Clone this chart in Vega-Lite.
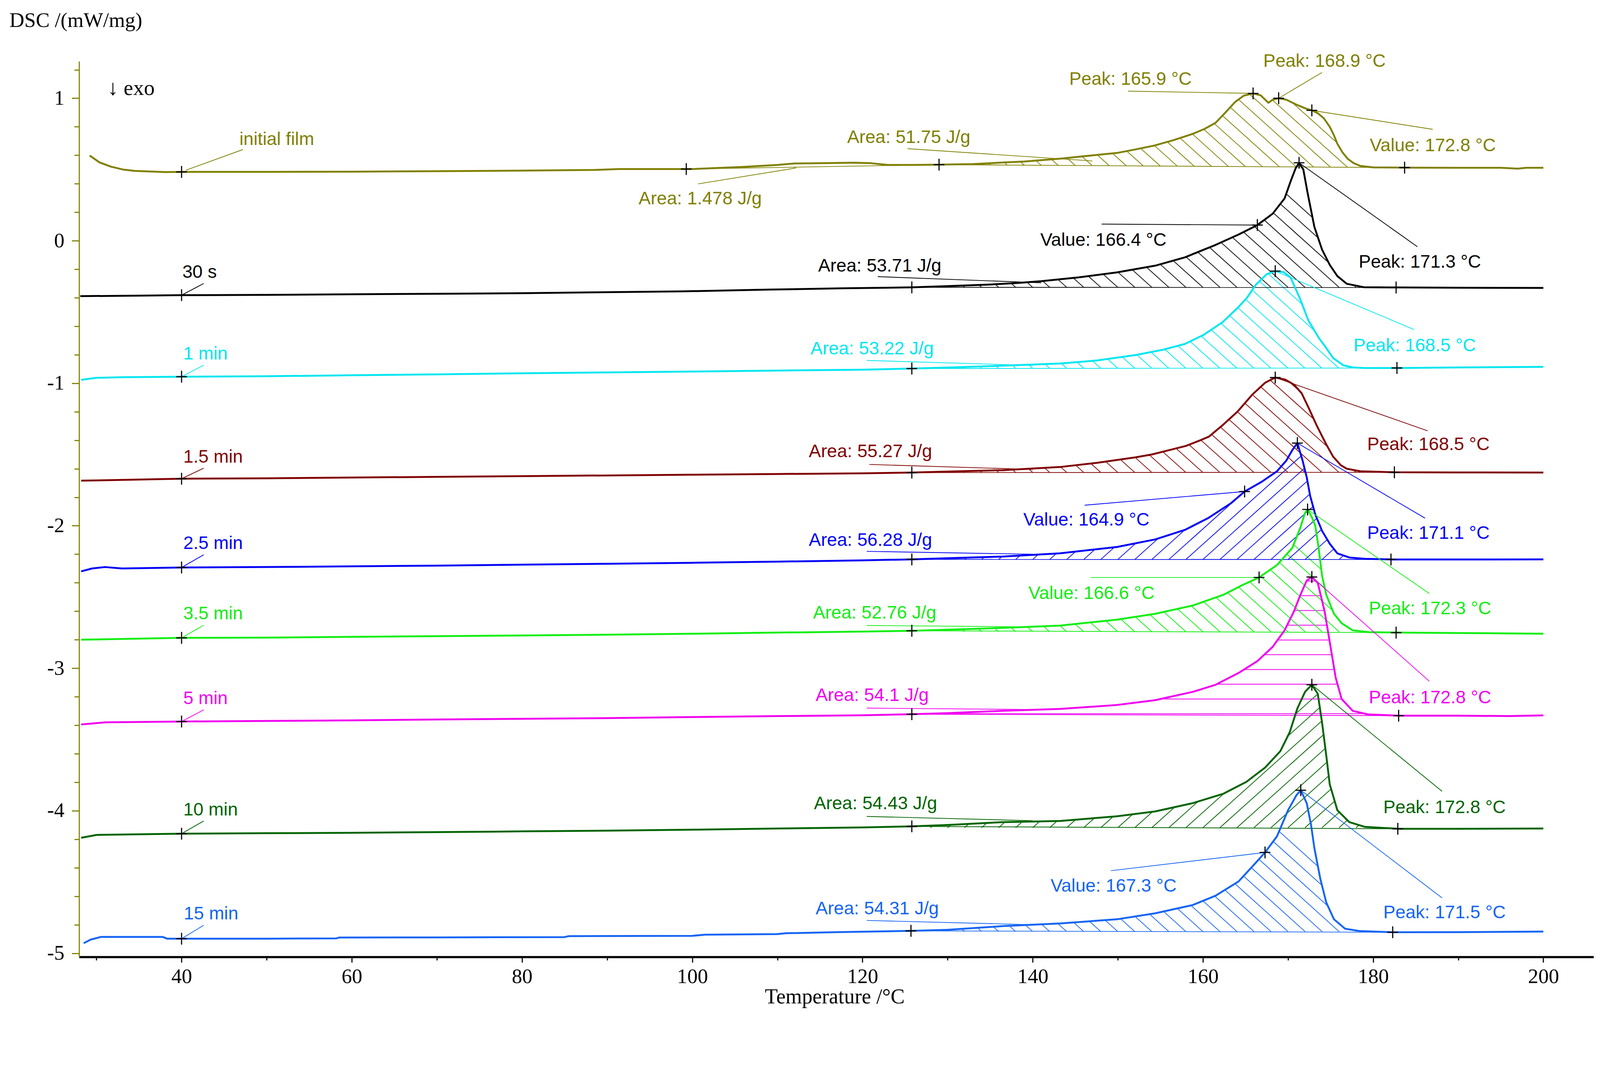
{
  "$schema": "https://vega.github.io/schema/vega-lite/v6.json",
  "width": 3877,
  "height": 2292,
  "autosize": "none",
  "padding": {"left": 202.5, "top": 157, "right": 16.5, "bottom": 157},
  "background": "white",
  "datasets": {
    "curve": [
      {"s":"initial film","t":29.2,"v":0.598},{"s":"initial film","t":30.35,"v":0.55},{"s":"initial film","t":31.7,"v":0.52},{"s":"initial film","t":33.1,"v":0.5},{"s":"initial film","t":34.5,"v":0.49},{"s":"initial film","t":38.1,"v":0.482},{"s":"initial film","t":40,"v":0.483},{"s":"initial film","t":50,"v":0.483},{"s":"initial film","t":60,"v":0.485},{"s":"initial film","t":70,"v":0.488},{"s":"initial film","t":80,"v":0.492},{"s":"initial film","t":88.5,"v":0.497},{"s":"initial film","t":91.4,"v":0.503},{"s":"initial film","t":100,"v":0.503},{"s":"initial film","t":106,"v":0.518},{"s":"initial film","t":110,"v":0.532},{"s":"initial film","t":112,"v":0.542},{"s":"initial film","t":116,"v":0.545},{"s":"initial film","t":119,"v":0.548},{"s":"initial film","t":121,"v":0.544},{"s":"initial film","t":123,"v":0.532},{"s":"initial film","t":126,"v":0.532},{"s":"initial film","t":129,"v":0.534},{"s":"initial film","t":133,"v":0.538},{"s":"initial film","t":136.5,"v":0.549},{"s":"initial film","t":139,"v":0.556},{"s":"initial film","t":143.2,"v":0.576},{"s":"initial film","t":146,"v":0.593},{"s":"initial film","t":149.9,"v":0.616},{"s":"initial film","t":152,"v":0.64},{"s":"initial film","t":154.3,"v":0.668},{"s":"initial film","t":156.5,"v":0.705},{"s":"initial film","t":158.8,"v":0.75},{"s":"initial film","t":160.2,"v":0.785},{"s":"initial film","t":161.5,"v":0.828},{"s":"initial film","t":162.8,"v":0.91},{"s":"initial film","t":163.8,"v":0.975},{"s":"initial film","t":164.8,"v":1.018},{"s":"initial film","t":165.9,"v":1.034},{"s":"initial film","t":166.8,"v":1.02},{"s":"initial film","t":167.7,"v":0.968},{"s":"initial film","t":168.2,"v":0.99},{"s":"initial film","t":168.9,"v":1.0},{"s":"initial film","t":169.8,"v":0.99},{"s":"initial film","t":171,"v":0.955},{"s":"initial film","t":172,"v":0.93},{"s":"initial film","t":172.8,"v":0.915},{"s":"initial film","t":173.5,"v":0.895},{"s":"initial film","t":174.2,"v":0.86},{"s":"initial film","t":174.9,"v":0.8},{"s":"initial film","t":175.4,"v":0.74},{"s":"initial film","t":175.8,"v":0.68},{"s":"initial film","t":176.4,"v":0.62},{"s":"initial film","t":177,"v":0.576},{"s":"initial film","t":177.7,"v":0.545},{"s":"initial film","t":178.5,"v":0.525},{"s":"initial film","t":180,"v":0.515},{"s":"initial film","t":185,"v":0.513},{"s":"initial film","t":190,"v":0.512},{"s":"initial film","t":195,"v":0.512},{"s":"initial film","t":197,"v":0.506},{"s":"initial film","t":198,"v":0.512},{"s":"initial film","t":200,"v":0.512},
      {"s":"30 s","t":28.1,"v":-0.389},{"s":"30 s","t":35,"v":-0.385},{"s":"30 s","t":40,"v":-0.382},{"s":"30 s","t":50,"v":-0.38},{"s":"30 s","t":60,"v":-0.376},{"s":"30 s","t":70,"v":-0.372},{"s":"30 s","t":80,"v":-0.368},{"s":"30 s","t":88.5,"v":-0.362},{"s":"30 s","t":99,"v":-0.355},{"s":"30 s","t":109,"v":-0.343},{"s":"30 s","t":117.5,"v":-0.334},{"s":"30 s","t":125.8,"v":-0.327},{"s":"30 s","t":130.2,"v":-0.318},{"s":"30 s","t":134.8,"v":-0.308},{"s":"30 s","t":138.3,"v":-0.296},{"s":"30 s","t":141,"v":-0.284},{"s":"30 s","t":145.4,"v":-0.257},{"s":"30 s","t":149.9,"v":-0.222},{"s":"30 s","t":154.4,"v":-0.175},{"s":"30 s","t":157.9,"v":-0.116},{"s":"30 s","t":161.5,"v":-0.029},{"s":"30 s","t":164.2,"v":0.044},{"s":"30 s","t":166.4,"v":0.11},{"s":"30 s","t":168.2,"v":0.19},{"s":"30 s","t":169.6,"v":0.297},{"s":"30 s","t":170.3,"v":0.416},{"s":"30 s","t":170.9,"v":0.509},{"s":"30 s","t":171.3,"v":0.547},{"s":"30 s","t":171.8,"v":0.5},{"s":"30 s","t":172.3,"v":0.336},{"s":"30 s","t":173.1,"v":0.097},{"s":"30 s","t":174,"v":-0.062},{"s":"30 s","t":174.9,"v":-0.169},{"s":"30 s","t":175.8,"v":-0.248},{"s":"30 s","t":176.9,"v":-0.302},{"s":"30 s","t":178.9,"v":-0.326},{"s":"30 s","t":183,"v":-0.328},{"s":"30 s","t":190,"v":-0.33},{"s":"30 s","t":200,"v":-0.331},
      {"s":"1 min","t":28.2,"v":-0.976},{"s":"1 min","t":30,"v":-0.962},{"s":"1 min","t":33,"v":-0.958},{"s":"1 min","t":40,"v":-0.954},{"s":"1 min","t":50,"v":-0.951},{"s":"1 min","t":60,"v":-0.944},{"s":"1 min","t":70,"v":-0.938},{"s":"1 min","t":80,"v":-0.93},{"s":"1 min","t":90,"v":-0.924},{"s":"1 min","t":100,"v":-0.918},{"s":"1 min","t":110,"v":-0.911},{"s":"1 min","t":120,"v":-0.905},{"s":"1 min","t":125.8,"v":-0.897},{"s":"1 min","t":130,"v":-0.89},{"s":"1 min","t":136.5,"v":-0.877},{"s":"1 min","t":143.2,"v":-0.862},{"s":"1 min","t":147.6,"v":-0.84},{"s":"1 min","t":152.1,"v":-0.802},{"s":"1 min","t":155.3,"v":-0.765},{"s":"1 min","t":157.9,"v":-0.724},{"s":"1 min","t":160.1,"v":-0.66},{"s":"1 min","t":162.3,"v":-0.572},{"s":"1 min","t":164.1,"v":-0.47},{"s":"1 min","t":165.2,"v":-0.399},{"s":"1 min","t":166.2,"v":-0.31},{"s":"1 min","t":167.5,"v":-0.235},{"s":"1 min","t":168.5,"v":-0.213},{"s":"1 min","t":169.5,"v":-0.22},{"s":"1 min","t":170.3,"v":-0.258},{"s":"1 min","t":171.4,"v":-0.405},{"s":"1 min","t":172.4,"v":-0.56},{"s":"1 min","t":173.6,"v":-0.68},{"s":"1 min","t":174.4,"v":-0.745},{"s":"1 min","t":175.3,"v":-0.823},{"s":"1 min","t":176.5,"v":-0.874},{"s":"1 min","t":177.6,"v":-0.889},{"s":"1 min","t":179,"v":-0.893},{"s":"1 min","t":183,"v":-0.893},{"s":"1 min","t":190,"v":-0.889},{"s":"1 min","t":200,"v":-0.885},
      {"s":"1.5 min","t":28.2,"v":-1.684},{"s":"1.5 min","t":40,"v":-1.67},{"s":"1.5 min","t":50,"v":-1.667},{"s":"1.5 min","t":60,"v":-1.662},{"s":"1.5 min","t":70,"v":-1.657},{"s":"1.5 min","t":80,"v":-1.652},{"s":"1.5 min","t":90,"v":-1.647},{"s":"1.5 min","t":100,"v":-1.642},{"s":"1.5 min","t":110,"v":-1.637},{"s":"1.5 min","t":120,"v":-1.632},{"s":"1.5 min","t":125.8,"v":-1.627},{"s":"1.5 min","t":130,"v":-1.62},{"s":"1.5 min","t":136.5,"v":-1.61},{"s":"1.5 min","t":143.2,"v":-1.588},{"s":"1.5 min","t":147.6,"v":-1.558},{"s":"1.5 min","t":152.1,"v":-1.52},{"s":"1.5 min","t":154,"v":-1.5},{"s":"1.5 min","t":156,"v":-1.47},{"s":"1.5 min","t":158,"v":-1.44},{"s":"1.5 min","t":159.7,"v":-1.4},{"s":"1.5 min","t":160.7,"v":-1.375},{"s":"1.5 min","t":162.4,"v":-1.29},{"s":"1.5 min","t":164.1,"v":-1.197},{"s":"1.5 min","t":165.8,"v":-1.08},{"s":"1.5 min","t":167.3,"v":-0.997},{"s":"1.5 min","t":168.5,"v":-0.96},{"s":"1.5 min","t":169.7,"v":-0.975},{"s":"1.5 min","t":170.7,"v":-1.01},{"s":"1.5 min","t":171.6,"v":-1.07},{"s":"1.5 min","t":172.4,"v":-1.17},{"s":"1.5 min","t":173.4,"v":-1.3},{"s":"1.5 min","t":174.5,"v":-1.43},{"s":"1.5 min","t":175.3,"v":-1.515},{"s":"1.5 min","t":176.2,"v":-1.575},{"s":"1.5 min","t":176.9,"v":-1.6},{"s":"1.5 min","t":178.5,"v":-1.618},{"s":"1.5 min","t":182.5,"v":-1.625},{"s":"1.5 min","t":190,"v":-1.626},{"s":"1.5 min","t":200,"v":-1.627},
      {"s":"2.5 min","t":28.2,"v":-2.32},{"s":"2.5 min","t":29.5,"v":-2.3},{"s":"2.5 min","t":31,"v":-2.29},{"s":"2.5 min","t":33,"v":-2.3},{"s":"2.5 min","t":40,"v":-2.293},{"s":"2.5 min","t":50,"v":-2.29},{"s":"2.5 min","t":60,"v":-2.285},{"s":"2.5 min","t":70,"v":-2.28},{"s":"2.5 min","t":80,"v":-2.273},{"s":"2.5 min","t":90,"v":-2.267},{"s":"2.5 min","t":100,"v":-2.26},{"s":"2.5 min","t":110,"v":-2.252},{"s":"2.5 min","t":120,"v":-2.243},{"s":"2.5 min","t":125.8,"v":-2.236},{"s":"2.5 min","t":130,"v":-2.228},{"s":"2.5 min","t":136.5,"v":-2.216},{"s":"2.5 min","t":143.2,"v":-2.194},{"s":"2.5 min","t":149.9,"v":-2.149},{"s":"2.5 min","t":154.4,"v":-2.096},{"s":"2.5 min","t":157.9,"v":-2.029},{"s":"2.5 min","t":160.6,"v":-1.947},{"s":"2.5 min","t":163.3,"v":-1.842},{"s":"2.5 min","t":164.9,"v":-1.76},{"s":"2.5 min","t":166.9,"v":-1.692},{"s":"2.5 min","t":168.7,"v":-1.618},{"s":"2.5 min","t":169.8,"v":-1.543},{"s":"2.5 min","t":170.5,"v":-1.47},{"s":"2.5 min","t":171.1,"v":-1.42},{"s":"2.5 min","t":171.7,"v":-1.54},{"s":"2.5 min","t":172.2,"v":-1.66},{"s":"2.5 min","t":172.6,"v":-1.79},{"s":"2.5 min","t":173.2,"v":-1.92},{"s":"2.5 min","t":174,"v":-2.036},{"s":"2.5 min","t":174.9,"v":-2.126},{"s":"2.5 min","t":175.8,"v":-2.194},{"s":"2.5 min","t":177.2,"v":-2.223},{"s":"2.5 min","t":179,"v":-2.232},{"s":"2.5 min","t":182.3,"v":-2.237},{"s":"2.5 min","t":190,"v":-2.237},{"s":"2.5 min","t":200,"v":-2.236},
      {"s":"3.5 min","t":28.2,"v":-2.8},{"s":"3.5 min","t":40,"v":-2.787},{"s":"3.5 min","t":50,"v":-2.785},{"s":"3.5 min","t":60,"v":-2.78},{"s":"3.5 min","t":70,"v":-2.775},{"s":"3.5 min","t":80,"v":-2.77},{"s":"3.5 min","t":90,"v":-2.765},{"s":"3.5 min","t":100,"v":-2.758},{"s":"3.5 min","t":110,"v":-2.75},{"s":"3.5 min","t":120,"v":-2.743},{"s":"3.5 min","t":125.8,"v":-2.737},{"s":"3.5 min","t":130,"v":-2.73},{"s":"3.5 min","t":136.5,"v":-2.717},{"s":"3.5 min","t":143.2,"v":-2.701},{"s":"3.5 min","t":149.9,"v":-2.659},{"s":"3.5 min","t":154.4,"v":-2.618},{"s":"3.5 min","t":158.8,"v":-2.56},{"s":"3.5 min","t":162.4,"v":-2.485},{"s":"3.5 min","t":164.6,"v":-2.418},{"s":"3.5 min","t":166.6,"v":-2.363},{"s":"3.5 min","t":168.7,"v":-2.276},{"s":"3.5 min","t":170.5,"v":-2.156},{"s":"3.5 min","t":171.4,"v":-2.022},{"s":"3.5 min","t":172,"v":-1.91},{"s":"3.5 min","t":172.3,"v":-1.886},{"s":"3.5 min","t":172.8,"v":-1.94},{"s":"3.5 min","t":173.2,"v":-2.0},{"s":"3.5 min","t":173.6,"v":-2.156},{"s":"3.5 min","t":174,"v":-2.351},{"s":"3.5 min","t":174.5,"v":-2.485},{"s":"3.5 min","t":175.4,"v":-2.618},{"s":"3.5 min","t":176.3,"v":-2.684},{"s":"3.5 min","t":177.6,"v":-2.734},{"s":"3.5 min","t":179.5,"v":-2.747},{"s":"3.5 min","t":182.7,"v":-2.75},{"s":"3.5 min","t":190,"v":-2.753},{"s":"3.5 min","t":200,"v":-2.758},
      {"s":"5 min","t":28.2,"v":-3.395},{"s":"5 min","t":31,"v":-3.38},{"s":"5 min","t":40,"v":-3.374},{"s":"5 min","t":50,"v":-3.37},{"s":"5 min","t":60,"v":-3.366},{"s":"5 min","t":70,"v":-3.36},{"s":"5 min","t":80,"v":-3.355},{"s":"5 min","t":90,"v":-3.35},{"s":"5 min","t":100,"v":-3.343},{"s":"5 min","t":110,"v":-3.336},{"s":"5 min","t":120,"v":-3.33},{"s":"5 min","t":125.8,"v":-3.323},{"s":"5 min","t":130,"v":-3.315},{"s":"5 min","t":136.5,"v":-3.299},{"s":"5 min","t":143.2,"v":-3.286},{"s":"5 min","t":149.9,"v":-3.258},{"s":"5 min","t":154.4,"v":-3.224},{"s":"5 min","t":158.8,"v":-3.166},{"s":"5 min","t":161.5,"v":-3.116},{"s":"5 min","t":164.2,"v":-3.033},{"s":"5 min","t":166.4,"v":-2.95},{"s":"5 min","t":168.2,"v":-2.85},{"s":"5 min","t":169.6,"v":-2.734},{"s":"5 min","t":170.7,"v":-2.601},{"s":"5 min","t":171.4,"v":-2.493},{"s":"5 min","t":172.2,"v":-2.385},{"s":"5 min","t":172.8,"v":-2.36},{"s":"5 min","t":173.5,"v":-2.402},{"s":"5 min","t":174.3,"v":-2.601},{"s":"5 min","t":175,"v":-2.85},{"s":"5 min","t":175.6,"v":-3.066},{"s":"5 min","t":176.3,"v":-3.216},{"s":"5 min","t":177.6,"v":-3.299},{"s":"5 min","t":179.4,"v":-3.324},{"s":"5 min","t":183,"v":-3.333},{"s":"5 min","t":190,"v":-3.333},{"s":"5 min","t":196,"v":-3.336},{"s":"5 min","t":200,"v":-3.331},
      {"s":"10 min","t":28.2,"v":-4.19},{"s":"10 min","t":30,"v":-4.17},{"s":"10 min","t":40,"v":-4.161},{"s":"10 min","t":50,"v":-4.158},{"s":"10 min","t":60,"v":-4.155},{"s":"10 min","t":70,"v":-4.15},{"s":"10 min","t":80,"v":-4.145},{"s":"10 min","t":90,"v":-4.14},{"s":"10 min","t":100,"v":-4.133},{"s":"10 min","t":110,"v":-4.125},{"s":"10 min","t":120,"v":-4.117},{"s":"10 min","t":125.8,"v":-4.11},{"s":"10 min","t":130,"v":-4.1},{"s":"10 min","t":136.5,"v":-4.08},{"s":"10 min","t":143.2,"v":-4.072},{"s":"10 min","t":149.9,"v":-4.039},{"s":"10 min","t":154.4,"v":-4.005},{"s":"10 min","t":158.8,"v":-3.947},{"s":"10 min","t":162.4,"v":-3.881},{"s":"10 min","t":165.1,"v":-3.798},{"s":"10 min","t":167.3,"v":-3.698},{"s":"10 min","t":169.1,"v":-3.582},{"s":"10 min","t":170.2,"v":-3.449},{"s":"10 min","t":171.1,"v":-3.282},{"s":"10 min","t":172,"v":-3.166},{"s":"10 min","t":172.8,"v":-3.116},{"s":"10 min","t":173.5,"v":-3.18},{"s":"10 min","t":174,"v":-3.382},{"s":"10 min","t":174.5,"v":-3.615},{"s":"10 min","t":174.9,"v":-3.814},{"s":"10 min","t":175.8,"v":-3.997},{"s":"10 min","t":177.2,"v":-4.08},{"s":"10 min","t":179,"v":-4.113},{"s":"10 min","t":183,"v":-4.127},{"s":"10 min","t":190,"v":-4.127},{"s":"10 min","t":200,"v":-4.125},
      {"s":"15 min","t":28.5,"v":-4.93},{"s":"15 min","t":29.3,"v":-4.905},{"s":"15 min","t":30.5,"v":-4.886},{"s":"15 min","t":37.8,"v":-4.886},{"s":"15 min","t":38.3,"v":-4.898},{"s":"15 min","t":50,"v":-4.898},{"s":"15 min","t":58.2,"v":-4.896},{"s":"15 min","t":58.5,"v":-4.89},{"s":"15 min","t":70,"v":-4.889},{"s":"15 min","t":85,"v":-4.887},{"s":"15 min","t":85.5,"v":-4.88},{"s":"15 min","t":100,"v":-4.878},{"s":"15 min","t":101.5,"v":-4.87},{"s":"15 min","t":110,"v":-4.866},{"s":"15 min","t":111,"v":-4.86},{"s":"15 min","t":117,"v":-4.852},{"s":"15 min","t":125.7,"v":-4.843},{"s":"15 min","t":130,"v":-4.836},{"s":"15 min","t":136.5,"v":-4.81},{"s":"15 min","t":143.2,"v":-4.791},{"s":"15 min","t":149.9,"v":-4.762},{"s":"15 min","t":154.4,"v":-4.72},{"s":"15 min","t":158.8,"v":-4.662},{"s":"15 min","t":161.5,"v":-4.596},{"s":"15 min","t":164.2,"v":-4.496},{"s":"15 min","t":166,"v":-4.379},{"s":"15 min","t":167.3,"v":-4.293},{"s":"15 min","t":168.7,"v":-4.18},{"s":"15 min","t":170,"v":-3.997},{"s":"15 min","t":171,"v":-3.89},{"s":"15 min","t":171.5,"v":-3.856},{"s":"15 min","t":172.2,"v":-3.947},{"s":"15 min","t":172.7,"v":-4.097},{"s":"15 min","t":173.1,"v":-4.263},{"s":"15 min","t":173.8,"v":-4.479},{"s":"15 min","t":174.5,"v":-4.645},{"s":"15 min","t":175.4,"v":-4.762},{"s":"15 min","t":176.7,"v":-4.828},{"s":"15 min","t":178.5,"v":-4.845},{"s":"15 min","t":182.3,"v":-4.853},{"s":"15 min","t":190,"v":-4.852},{"s":"15 min","t":200,"v":-4.848}
    ],
    "hatch": [
      {"s":"15 min","t":132,"v":-4.848,"t2":113.2,"v2":-3.835},{"s":"15 min","t":134,"v":-4.848,"t2":115.2,"v2":-3.835},{"s":"15 min","t":136,"v":-4.848,"t2":117.2,"v2":-3.835},{"s":"15 min","t":138,"v":-4.848,"t2":119.2,"v2":-3.835},{"s":"15 min","t":140,"v":-4.848,"t2":121.2,"v2":-3.835},{"s":"15 min","t":142,"v":-4.848,"t2":123.2,"v2":-3.835},{"s":"15 min","t":144,"v":-4.848,"t2":125.2,"v2":-3.835},{"s":"15 min","t":146,"v":-4.848,"t2":127.2,"v2":-3.835},{"s":"15 min","t":148,"v":-4.848,"t2":129.2,"v2":-3.835},{"s":"15 min","t":150,"v":-4.848,"t2":131.2,"v2":-3.835},{"s":"15 min","t":152,"v":-4.848,"t2":133.2,"v2":-3.835},{"s":"15 min","t":154,"v":-4.848,"t2":135.2,"v2":-3.835},{"s":"15 min","t":156,"v":-4.848,"t2":137.2,"v2":-3.835},{"s":"15 min","t":158,"v":-4.848,"t2":139.2,"v2":-3.835},{"s":"15 min","t":160,"v":-4.848,"t2":141.2,"v2":-3.835},{"s":"15 min","t":162,"v":-4.848,"t2":143.2,"v2":-3.835},{"s":"15 min","t":164,"v":-4.848,"t2":145.2,"v2":-3.835},{"s":"15 min","t":166,"v":-4.848,"t2":147.2,"v2":-3.835},{"s":"15 min","t":168,"v":-4.848,"t2":149.2,"v2":-3.835},{"s":"15 min","t":170,"v":-4.848,"t2":151.2,"v2":-3.835},{"s":"15 min","t":172,"v":-4.848,"t2":153.2,"v2":-3.835},{"s":"15 min","t":174,"v":-4.848,"t2":155.2,"v2":-3.835},{"s":"15 min","t":176,"v":-4.848,"t2":157.2,"v2":-3.835},{"s":"15 min","t":178,"v":-4.848,"t2":159.2,"v2":-3.835},{"s":"15 min","t":180,"v":-4.848,"t2":161.2,"v2":-3.835},{"s":"15 min","t":182,"v":-4.848,"t2":163.2,"v2":-3.835},
      {"s":"10 min","t":128,"v":-4.119,"t2":147.1,"v2":-3.095},{"s":"10 min","t":130,"v":-4.119,"t2":149.1,"v2":-3.095},{"s":"10 min","t":132,"v":-4.119,"t2":151.1,"v2":-3.095},{"s":"10 min","t":134,"v":-4.119,"t2":153.1,"v2":-3.095},{"s":"10 min","t":136,"v":-4.119,"t2":155.1,"v2":-3.095},{"s":"10 min","t":138,"v":-4.119,"t2":157.1,"v2":-3.095},{"s":"10 min","t":140,"v":-4.119,"t2":159.1,"v2":-3.095},{"s":"10 min","t":142,"v":-4.119,"t2":161.1,"v2":-3.095},{"s":"10 min","t":144,"v":-4.119,"t2":163.1,"v2":-3.095},{"s":"10 min","t":146,"v":-4.119,"t2":165.1,"v2":-3.095},{"s":"10 min","t":148,"v":-4.119,"t2":167.1,"v2":-3.095},{"s":"10 min","t":150,"v":-4.119,"t2":169.1,"v2":-3.095},{"s":"10 min","t":152,"v":-4.119,"t2":171.1,"v2":-3.095},{"s":"10 min","t":154,"v":-4.119,"t2":173.1,"v2":-3.095},{"s":"10 min","t":156,"v":-4.119,"t2":175.1,"v2":-3.095},{"s":"10 min","t":158,"v":-4.119,"t2":177.1,"v2":-3.095},{"s":"10 min","t":160,"v":-4.119,"t2":179.1,"v2":-3.095},{"s":"10 min","t":162,"v":-4.119,"t2":181.1,"v2":-3.095},{"s":"10 min","t":164,"v":-4.119,"t2":183.1,"v2":-3.095},{"s":"10 min","t":166,"v":-4.119,"t2":185.1,"v2":-3.095},{"s":"10 min","t":168,"v":-4.119,"t2":187.1,"v2":-3.095},{"s":"10 min","t":170,"v":-4.119,"t2":189.1,"v2":-3.095},{"s":"10 min","t":172,"v":-4.119,"t2":191.1,"v2":-3.095},{"s":"10 min","t":174,"v":-4.119,"t2":193.1,"v2":-3.095},{"s":"10 min","t":176,"v":-4.119,"t2":195.1,"v2":-3.095},{"s":"10 min","t":178,"v":-4.119,"t2":197.1,"v2":-3.095},
      {"s":"5 min","t":128,"v":-3.319,"t2":184,"v2":-3.319},{"s":"5 min","t":128,"v":-3.216,"t2":184,"v2":-3.216},{"s":"5 min","t":128,"v":-3.112,"t2":184,"v2":-3.112},{"s":"5 min","t":128,"v":-3.009,"t2":184,"v2":-3.009},{"s":"5 min","t":128,"v":-2.905,"t2":184,"v2":-2.905},{"s":"5 min","t":128,"v":-2.802,"t2":184,"v2":-2.802},{"s":"5 min","t":128,"v":-2.698,"t2":184,"v2":-2.698},{"s":"5 min","t":128,"v":-2.595,"t2":184,"v2":-2.595},{"s":"5 min","t":128,"v":-2.491,"t2":184,"v2":-2.491},{"s":"5 min","t":128,"v":-2.388,"t2":184,"v2":-2.388},
      {"s":"3.5 min","t":132,"v":-2.744,"t2":115.7,"v2":-1.865},{"s":"3.5 min","t":134,"v":-2.744,"t2":117.7,"v2":-1.865},{"s":"3.5 min","t":136,"v":-2.744,"t2":119.7,"v2":-1.865},{"s":"3.5 min","t":138,"v":-2.744,"t2":121.7,"v2":-1.865},{"s":"3.5 min","t":140,"v":-2.744,"t2":123.7,"v2":-1.865},{"s":"3.5 min","t":142,"v":-2.744,"t2":125.7,"v2":-1.865},{"s":"3.5 min","t":144,"v":-2.744,"t2":127.7,"v2":-1.865},{"s":"3.5 min","t":146,"v":-2.744,"t2":129.7,"v2":-1.865},{"s":"3.5 min","t":148,"v":-2.744,"t2":131.7,"v2":-1.865},{"s":"3.5 min","t":150,"v":-2.744,"t2":133.7,"v2":-1.865},{"s":"3.5 min","t":152,"v":-2.744,"t2":135.7,"v2":-1.865},{"s":"3.5 min","t":154,"v":-2.744,"t2":137.7,"v2":-1.865},{"s":"3.5 min","t":156,"v":-2.744,"t2":139.7,"v2":-1.865},{"s":"3.5 min","t":158,"v":-2.744,"t2":141.7,"v2":-1.865},{"s":"3.5 min","t":160,"v":-2.744,"t2":143.7,"v2":-1.865},{"s":"3.5 min","t":162,"v":-2.744,"t2":145.7,"v2":-1.865},{"s":"3.5 min","t":164,"v":-2.744,"t2":147.7,"v2":-1.865},{"s":"3.5 min","t":166,"v":-2.744,"t2":149.7,"v2":-1.865},{"s":"3.5 min","t":168,"v":-2.744,"t2":151.7,"v2":-1.865},{"s":"3.5 min","t":170,"v":-2.744,"t2":153.7,"v2":-1.865},{"s":"3.5 min","t":172,"v":-2.744,"t2":155.7,"v2":-1.865},{"s":"3.5 min","t":174,"v":-2.744,"t2":157.7,"v2":-1.865},{"s":"3.5 min","t":176,"v":-2.744,"t2":159.7,"v2":-1.865},{"s":"3.5 min","t":178,"v":-2.744,"t2":161.7,"v2":-1.865},{"s":"3.5 min","t":180,"v":-2.744,"t2":163.7,"v2":-1.865},{"s":"3.5 min","t":182,"v":-2.744,"t2":165.7,"v2":-1.865},
      {"s":"2.5 min","t":128,"v":-2.237,"t2":143.6,"v2":-1.4},{"s":"2.5 min","t":130,"v":-2.237,"t2":145.6,"v2":-1.4},{"s":"2.5 min","t":132,"v":-2.237,"t2":147.6,"v2":-1.4},{"s":"2.5 min","t":134,"v":-2.237,"t2":149.6,"v2":-1.4},{"s":"2.5 min","t":136,"v":-2.237,"t2":151.6,"v2":-1.4},{"s":"2.5 min","t":138,"v":-2.237,"t2":153.6,"v2":-1.4},{"s":"2.5 min","t":140,"v":-2.237,"t2":155.6,"v2":-1.4},{"s":"2.5 min","t":142,"v":-2.237,"t2":157.6,"v2":-1.4},{"s":"2.5 min","t":144,"v":-2.237,"t2":159.6,"v2":-1.4},{"s":"2.5 min","t":146,"v":-2.237,"t2":161.6,"v2":-1.4},{"s":"2.5 min","t":148,"v":-2.237,"t2":163.6,"v2":-1.4},{"s":"2.5 min","t":150,"v":-2.237,"t2":165.6,"v2":-1.4},{"s":"2.5 min","t":152,"v":-2.237,"t2":167.6,"v2":-1.4},{"s":"2.5 min","t":154,"v":-2.237,"t2":169.6,"v2":-1.4},{"s":"2.5 min","t":156,"v":-2.237,"t2":171.6,"v2":-1.4},{"s":"2.5 min","t":158,"v":-2.237,"t2":173.6,"v2":-1.4},{"s":"2.5 min","t":160,"v":-2.237,"t2":175.6,"v2":-1.4},{"s":"2.5 min","t":162,"v":-2.237,"t2":177.6,"v2":-1.4},{"s":"2.5 min","t":164,"v":-2.237,"t2":179.6,"v2":-1.4},{"s":"2.5 min","t":166,"v":-2.237,"t2":181.6,"v2":-1.4},{"s":"2.5 min","t":168,"v":-2.237,"t2":183.6,"v2":-1.4},{"s":"2.5 min","t":170,"v":-2.237,"t2":185.6,"v2":-1.4},{"s":"2.5 min","t":172,"v":-2.237,"t2":187.6,"v2":-1.4},{"s":"2.5 min","t":174,"v":-2.237,"t2":189.6,"v2":-1.4},{"s":"2.5 min","t":176,"v":-2.237,"t2":191.6,"v2":-1.4},{"s":"2.5 min","t":178,"v":-2.237,"t2":193.6,"v2":-1.4},
      {"s":"1.5 min","t":132,"v":-1.626,"t2":119.2,"v2":-0.94},{"s":"1.5 min","t":134,"v":-1.626,"t2":121.2,"v2":-0.94},{"s":"1.5 min","t":136,"v":-1.626,"t2":123.2,"v2":-0.94},{"s":"1.5 min","t":138,"v":-1.626,"t2":125.2,"v2":-0.94},{"s":"1.5 min","t":140,"v":-1.626,"t2":127.2,"v2":-0.94},{"s":"1.5 min","t":142,"v":-1.626,"t2":129.2,"v2":-0.94},{"s":"1.5 min","t":144,"v":-1.626,"t2":131.2,"v2":-0.94},{"s":"1.5 min","t":146,"v":-1.626,"t2":133.2,"v2":-0.94},{"s":"1.5 min","t":148,"v":-1.626,"t2":135.2,"v2":-0.94},{"s":"1.5 min","t":150,"v":-1.626,"t2":137.2,"v2":-0.94},{"s":"1.5 min","t":152,"v":-1.626,"t2":139.2,"v2":-0.94},{"s":"1.5 min","t":154,"v":-1.626,"t2":141.2,"v2":-0.94},{"s":"1.5 min","t":156,"v":-1.626,"t2":143.2,"v2":-0.94},{"s":"1.5 min","t":158,"v":-1.626,"t2":145.2,"v2":-0.94},{"s":"1.5 min","t":160,"v":-1.626,"t2":147.2,"v2":-0.94},{"s":"1.5 min","t":162,"v":-1.626,"t2":149.2,"v2":-0.94},{"s":"1.5 min","t":164,"v":-1.626,"t2":151.2,"v2":-0.94},{"s":"1.5 min","t":166,"v":-1.626,"t2":153.2,"v2":-0.94},{"s":"1.5 min","t":168,"v":-1.626,"t2":155.2,"v2":-0.94},{"s":"1.5 min","t":170,"v":-1.626,"t2":157.2,"v2":-0.94},{"s":"1.5 min","t":172,"v":-1.626,"t2":159.2,"v2":-0.94},{"s":"1.5 min","t":174,"v":-1.626,"t2":161.2,"v2":-0.94},{"s":"1.5 min","t":176,"v":-1.626,"t2":163.2,"v2":-0.94},{"s":"1.5 min","t":178,"v":-1.626,"t2":165.2,"v2":-0.94},{"s":"1.5 min","t":180,"v":-1.626,"t2":167.2,"v2":-0.94},{"s":"1.5 min","t":182,"v":-1.626,"t2":169.2,"v2":-0.94},
      {"s":"1 min","t":132,"v":-0.895,"t2":118.9,"v2":-0.19},{"s":"1 min","t":134,"v":-0.895,"t2":120.9,"v2":-0.19},{"s":"1 min","t":136,"v":-0.895,"t2":122.9,"v2":-0.19},{"s":"1 min","t":138,"v":-0.895,"t2":124.9,"v2":-0.19},{"s":"1 min","t":140,"v":-0.895,"t2":126.9,"v2":-0.19},{"s":"1 min","t":142,"v":-0.895,"t2":128.9,"v2":-0.19},{"s":"1 min","t":144,"v":-0.895,"t2":130.9,"v2":-0.19},{"s":"1 min","t":146,"v":-0.895,"t2":132.9,"v2":-0.19},{"s":"1 min","t":148,"v":-0.895,"t2":134.9,"v2":-0.19},{"s":"1 min","t":150,"v":-0.895,"t2":136.9,"v2":-0.19},{"s":"1 min","t":152,"v":-0.895,"t2":138.9,"v2":-0.19},{"s":"1 min","t":154,"v":-0.895,"t2":140.9,"v2":-0.19},{"s":"1 min","t":156,"v":-0.895,"t2":142.9,"v2":-0.19},{"s":"1 min","t":158,"v":-0.895,"t2":144.9,"v2":-0.19},{"s":"1 min","t":160,"v":-0.895,"t2":146.9,"v2":-0.19},{"s":"1 min","t":162,"v":-0.895,"t2":148.9,"v2":-0.19},{"s":"1 min","t":164,"v":-0.895,"t2":150.9,"v2":-0.19},{"s":"1 min","t":166,"v":-0.895,"t2":152.9,"v2":-0.19},{"s":"1 min","t":168,"v":-0.895,"t2":154.9,"v2":-0.19},{"s":"1 min","t":170,"v":-0.895,"t2":156.9,"v2":-0.19},{"s":"1 min","t":172,"v":-0.895,"t2":158.9,"v2":-0.19},{"s":"1 min","t":174,"v":-0.895,"t2":160.9,"v2":-0.19},{"s":"1 min","t":176,"v":-0.895,"t2":162.9,"v2":-0.19},{"s":"1 min","t":178,"v":-0.895,"t2":164.9,"v2":-0.19},{"s":"1 min","t":180,"v":-0.895,"t2":166.9,"v2":-0.19},{"s":"1 min","t":182,"v":-0.895,"t2":168.9,"v2":-0.19},
      {"s":"30 s","t":132,"v":-0.327,"t2":115.3,"v2":0.57},{"s":"30 s","t":134,"v":-0.327,"t2":117.3,"v2":0.57},{"s":"30 s","t":136,"v":-0.327,"t2":119.3,"v2":0.57},{"s":"30 s","t":138,"v":-0.327,"t2":121.3,"v2":0.57},{"s":"30 s","t":140,"v":-0.327,"t2":123.3,"v2":0.57},{"s":"30 s","t":142,"v":-0.327,"t2":125.3,"v2":0.57},{"s":"30 s","t":144,"v":-0.327,"t2":127.3,"v2":0.57},{"s":"30 s","t":146,"v":-0.327,"t2":129.3,"v2":0.57},{"s":"30 s","t":148,"v":-0.327,"t2":131.3,"v2":0.57},{"s":"30 s","t":150,"v":-0.327,"t2":133.3,"v2":0.57},{"s":"30 s","t":152,"v":-0.327,"t2":135.3,"v2":0.57},{"s":"30 s","t":154,"v":-0.327,"t2":137.3,"v2":0.57},{"s":"30 s","t":156,"v":-0.327,"t2":139.3,"v2":0.57},{"s":"30 s","t":158,"v":-0.327,"t2":141.3,"v2":0.57},{"s":"30 s","t":160,"v":-0.327,"t2":143.3,"v2":0.57},{"s":"30 s","t":162,"v":-0.327,"t2":145.3,"v2":0.57},{"s":"30 s","t":164,"v":-0.327,"t2":147.3,"v2":0.57},{"s":"30 s","t":166,"v":-0.327,"t2":149.3,"v2":0.57},{"s":"30 s","t":168,"v":-0.327,"t2":151.3,"v2":0.57},{"s":"30 s","t":170,"v":-0.327,"t2":153.3,"v2":0.57},{"s":"30 s","t":172,"v":-0.327,"t2":155.3,"v2":0.57},{"s":"30 s","t":174,"v":-0.327,"t2":157.3,"v2":0.57},{"s":"30 s","t":176,"v":-0.327,"t2":159.3,"v2":0.57},{"s":"30 s","t":178,"v":-0.327,"t2":161.3,"v2":0.57},{"s":"30 s","t":180,"v":-0.327,"t2":163.3,"v2":0.57},{"s":"30 s","t":182,"v":-0.327,"t2":165.3,"v2":0.57},
      {"s":"initial film","t":131,"v":0.534,"t2":121.4,"v2":1.05},{"s":"initial film","t":133,"v":0.533,"t2":123.4,"v2":1.05},{"s":"initial film","t":135,"v":0.532,"t2":125.4,"v2":1.05},{"s":"initial film","t":137,"v":0.532,"t2":127.4,"v2":1.05},{"s":"initial film","t":139,"v":0.531,"t2":129.3,"v2":1.05},{"s":"initial film","t":141,"v":0.53,"t2":131.3,"v2":1.05},{"s":"initial film","t":143,"v":0.529,"t2":133.3,"v2":1.05},{"s":"initial film","t":145,"v":0.528,"t2":135.3,"v2":1.05},{"s":"initial film","t":147,"v":0.527,"t2":137.3,"v2":1.05},{"s":"initial film","t":149,"v":0.527,"t2":139.3,"v2":1.05},{"s":"initial film","t":151,"v":0.526,"t2":141.3,"v2":1.05},{"s":"initial film","t":153,"v":0.525,"t2":143.2,"v2":1.05},{"s":"initial film","t":155,"v":0.524,"t2":145.2,"v2":1.05},{"s":"initial film","t":157,"v":0.523,"t2":147.2,"v2":1.05},{"s":"initial film","t":159,"v":0.522,"t2":149.2,"v2":1.05},{"s":"initial film","t":161,"v":0.522,"t2":151.2,"v2":1.05},{"s":"initial film","t":163,"v":0.521,"t2":153.2,"v2":1.05},{"s":"initial film","t":165,"v":0.52,"t2":155.1,"v2":1.05},{"s":"initial film","t":167,"v":0.519,"t2":157.1,"v2":1.05},{"s":"initial film","t":169,"v":0.518,"t2":159.1,"v2":1.05},{"s":"initial film","t":171,"v":0.517,"t2":161.1,"v2":1.05},{"s":"initial film","t":173,"v":0.517,"t2":163.1,"v2":1.05},{"s":"initial film","t":175,"v":0.516,"t2":165.1,"v2":1.05},{"s":"initial film","t":177,"v":0.515,"t2":167,"v2":1.05},{"s":"initial film","t":179,"v":0.514,"t2":169,"v2":1.05},{"s":"initial film","t":181,"v":0.513,"t2":171,"v2":1.05},{"s":"initial film","t":183,"v":0.512,"t2":173,"v2":1.05}
    ],
    "base": [
      {"s":"initial film","g":"a","t":99.3,"v":0.503},{"s":"initial film","g":"a","t":129,"v":0.534},
      {"s":"initial film","g":"b","t":129,"v":0.534},{"s":"initial film","g":"b","t":183.7,"v":0.513},
      {"s":"30 s","g":"a","t":125.8,"v":-0.327},{"s":"30 s","g":"a","t":182.7,"v":-0.328},
      {"s":"1 min","g":"a","t":125.8,"v":-0.897},{"s":"1 min","g":"a","t":182.8,"v":-0.893},
      {"s":"1.5 min","g":"a","t":125.8,"v":-1.627},{"s":"1.5 min","g":"a","t":182.5,"v":-1.625},
      {"s":"2.5 min","g":"a","t":125.8,"v":-2.236},{"s":"2.5 min","g":"a","t":182.1,"v":-2.237},
      {"s":"3.5 min","g":"a","t":125.8,"v":-2.737},{"s":"3.5 min","g":"a","t":182.7,"v":-2.75},
      {"s":"5 min","g":"a","t":125.8,"v":-3.323},{"s":"5 min","g":"a","t":183,"v":-3.333},
      {"s":"10 min","g":"a","t":125.8,"v":-4.11},{"s":"10 min","g":"a","t":182.9,"v":-4.127},
      {"s":"15 min","g":"a","t":125.7,"v":-4.843},{"s":"15 min","g":"a","t":182.3,"v":-4.853}
    ],
    "lead": [
      {"s":"initial film","t":40.5,"v":0.495,"t2":47.2,"v2":0.64},
      {"s":"initial film","t":100.7,"v":0.399,"t2":112.2,"v2":0.511},
      {"s":"initial film","t":125.3,"v":0.646,"t2":147,"v2":0.56},
      {"s":"initial film","t":151.2,"v":1.05,"t2":165.9,"v2":1.034},
      {"s":"initial film","t":174,"v":1.181,"t2":168.9,"v2":1.0},
      {"s":"initial film","t":172.8,"v":0.915,"t2":187,"v2":0.782},
      {"s":"30 s","t":40,"v":-0.382,"t2":42.6,"v2":-0.3},
      {"s":"30 s","t":121.8,"v":-0.252,"t2":141,"v2":-0.295},
      {"s":"30 s","t":148.1,"v":0.117,"t2":166.4,"v2":0.11},
      {"s":"30 s","t":171.3,"v":0.547,"t2":185.2,"v2":-0.042},
      {"s":"1 min","t":40,"v":-0.954,"t2":42.6,"v2":-0.873},
      {"s":"1 min","t":120.5,"v":-0.84,"t2":140,"v2":-0.875},
      {"s":"1 min","t":168.5,"v":-0.213,"t2":184.8,"v2":-0.623},
      {"s":"1.5 min","t":40,"v":-1.67,"t2":42.6,"v2":-1.596},
      {"s":"1.5 min","t":120.8,"v":-1.57,"t2":140,"v2":-1.605},
      {"s":"1.5 min","t":168.5,"v":-0.96,"t2":186.4,"v2":-1.334},
      {"s":"2.5 min","t":40,"v":-2.293,"t2":42.6,"v2":-2.204},
      {"s":"2.5 min","t":120.5,"v":-2.18,"t2":140,"v2":-2.2},
      {"s":"2.5 min","t":164.9,"v":-1.76,"t2":146.1,"v2":-1.856},
      {"s":"2.5 min","t":171.1,"v":-1.42,"t2":186.1,"v2":-1.947},
      {"s":"3.5 min","t":40,"v":-2.787,"t2":42.6,"v2":-2.698},
      {"s":"3.5 min","t":120.5,"v":-2.7,"t2":140,"v2":-2.71},
      {"s":"3.5 min","t":166.6,"v":-2.363,"t2":146.8,"v2":-2.363},
      {"s":"3.5 min","t":172.3,"v":-1.886,"t2":186.6,"v2":-2.476},
      {"s":"5 min","t":40,"v":-3.374,"t2":42.6,"v2":-3.292},
      {"s":"5 min","t":120.5,"v":-3.28,"t2":140,"v2":-3.29},
      {"s":"5 min","t":172.8,"v":-2.36,"t2":186.6,"v2":-3.091},
      {"s":"10 min","t":40,"v":-4.161,"t2":42.6,"v2":-4.072},
      {"s":"10 min","t":120.5,"v":-4.04,"t2":140,"v2":-4.07},
      {"s":"10 min","t":172.8,"v":-3.116,"t2":188.1,"v2":-3.864},
      {"s":"15 min","t":40,"v":-4.898,"t2":42.6,"v2":-4.804},
      {"s":"15 min","t":120.5,"v":-4.77,"t2":140,"v2":-4.8},
      {"s":"15 min","t":167.3,"v":-4.293,"t2":149.2,"v2":-4.421},
      {"s":"15 min","t":171.5,"v":-3.856,"t2":188.1,"v2":-4.612}
    ],
    "mk": [
      {"t":40,"v":0.483},{"t":40,"v":-0.382},{"t":40,"v":-0.954},{"t":40,"v":-1.67},{"t":40,"v":-2.293},{"t":40,"v":-2.787},{"t":40,"v":-3.374},{"t":40,"v":-4.161},{"t":40,"v":-4.898},
      {"t":99.3,"v":0.503},{"t":129,"v":0.534},{"t":125.8,"v":-0.327},{"t":125.8,"v":-0.897},{"t":125.8,"v":-1.627},{"t":125.8,"v":-2.236},{"t":125.8,"v":-2.737},{"t":125.8,"v":-3.323},{"t":125.8,"v":-4.11},{"t":125.7,"v":-4.843},
      {"t":183.7,"v":0.513},{"t":182.7,"v":-0.328},{"t":182.8,"v":-0.893},{"t":182.5,"v":-1.625},{"t":182.1,"v":-2.237},{"t":182.7,"v":-2.75},{"t":183,"v":-3.333},{"t":182.9,"v":-4.127},{"t":182.3,"v":-4.853},
      {"t":165.9,"v":1.034},{"t":168.9,"v":1.0},{"t":172.8,"v":0.915},{"t":171.3,"v":0.547},{"t":166.4,"v":0.11},{"t":168.5,"v":-0.213},{"t":168.5,"v":-0.96},{"t":171.1,"v":-1.42},{"t":164.9,"v":-1.76},{"t":172.3,"v":-1.886},{"t":166.6,"v":-2.363},{"t":172.8,"v":-2.36},{"t":172.8,"v":-3.116},{"t":171.5,"v":-3.856},{"t":167.3,"v":-4.293}
    ],
    "lab": [
      {"s":"initial film","text":"initial film","t":46.8,"v":0.671},
      {"s":"initial film","text":"Area: 1.478 J/g","t":93.7,"v":0.255},
      {"s":"initial film","text":"Area: 51.75 J/g","t":118.2,"v":0.685},
      {"s":"initial film","text":"Peak: 165.9 °C","t":144.3,"v":1.094},
      {"s":"initial film","text":"Peak: 168.9 °C","t":167.1,"v":1.221},
      {"s":"initial film","text":"Value: 172.8 °C","t":179.6,"v":0.629},
      {"s":"30 s","text":"30 s","t":40.1,"v":-0.26},
      {"s":"30 s","text":"Area: 53.71 J/g","t":114.8,"v":-0.217},
      {"s":"30 s","text":"Value: 166.4 °C","t":140.9,"v":-0.036},
      {"s":"30 s","text":"Peak: 171.3 °C","t":178.3,"v":-0.189},
      {"s":"1 min","text":"1 min","t":40.2,"v":-0.833},
      {"s":"1 min","text":"Area: 53.22 J/g","t":113.9,"v":-0.797},
      {"s":"1 min","text":"Peak: 168.5 °C","t":177.7,"v":-0.775},
      {"s":"1.5 min","text":"1.5 min","t":40.2,"v":-1.556},
      {"s":"1.5 min","text":"Area: 55.27 J/g","t":113.7,"v":-1.52},
      {"s":"1.5 min","text":"Peak: 168.5 °C","t":179.3,"v":-1.47},
      {"s":"2.5 min","text":"2.5 min","t":40.2,"v":-2.164},
      {"s":"2.5 min","text":"Area: 56.28 J/g","t":113.7,"v":-2.142},
      {"s":"2.5 min","text":"Value: 164.9 °C","t":138.9,"v":-1.999},
      {"s":"2.5 min","text":"Peak: 171.1 °C","t":179.3,"v":-2.092},
      {"s":"3.5 min","text":"3.5 min","t":40.2,"v":-2.658},
      {"s":"3.5 min","text":"Area: 52.76 J/g","t":114.2,"v":-2.65},
      {"s":"3.5 min","text":"Value: 166.6 °C","t":139.5,"v":-2.515},
      {"s":"3.5 min","text":"Peak: 172.3 °C","t":179.5,"v":-2.622},
      {"s":"5 min","text":"5 min","t":40.2,"v":-3.252},
      {"s":"5 min","text":"Area: 54.1 J/g","t":114.5,"v":-3.23},
      {"s":"5 min","text":"Peak: 172.8 °C","t":179.5,"v":-3.245},
      {"s":"10 min","text":"10 min","t":40.2,"v":-4.032},
      {"s":"10 min","text":"Area: 54.43 J/g","t":114.3,"v":-3.99},
      {"s":"10 min","text":"Peak: 172.8 °C","t":181.2,"v":-4.018},
      {"s":"15 min","text":"15 min","t":40.26,"v":-4.764},
      {"s":"15 min","text":"Area: 54.31 J/g","t":114.5,"v":-4.726},
      {"s":"15 min","text":"Value: 167.3 °C","t":142.1,"v":-4.569},
      {"s":"15 min","text":"Peak: 171.5 °C","t":181.2,"v":-4.755}
    ]
  },
  "layer": [
    {
      "data": {"name": "hatch"},
      "transform": [{"filter": "datum.s === '15 min'"}],
      "mark": {"type": "rule", "color": "#1464F4", "strokeWidth": 1.9},
      "encoding": {
        "x": {
          "field": "t", "type": "quantitative",
          "scale": {"domain": [27.96, 205.9], "nice": false, "zero": false},
          "axis": {
            "values": [30, 40, 50, 60, 70, 80, 90, 100, 110, 120, 130, 140, 150, 160, 170, 180, 190, 200],
            "labelExpr": "datum.value % 20 === 0 ? datum.label : ''",
            "tickSize": {"condition": {"test": "datum.value % 20 === 0", "value": 14}, "value": 8.5},
            "tickWidth": 2.85, "tickColor": "black",
            "domainColor": "black", "domainWidth": 5.7,
            "labelFont": "Liberation Serif", "labelFontSize": 53, "labelColor": "black",
            "labelBaseline": "alphabetic", "labelPadding": 52,
            "labelFlush": false, "labelOverlap": false, "grid": false,
            "title": "Temperature /°C",
            "titleFont": "Liberation Serif", "titleFontSize": 54, "titleFontWeight": "normal", "titleColor": "black",
            "titleX": 1934, "titleY": 118, "titleAlign": "center", "titleBaseline": "alphabetic"
          }
        },
        "y": {
          "field": "v", "type": "quantitative",
          "scale": {"domain": [-5.026, 1.259], "nice": false, "zero": false},
          "axis": {
            "values": [-5, -4.8, -4.6, -4.4, -4.2, -4, -3.8, -3.6, -3.4, -3.2, -3, -2.8, -2.6, -2.4, -2.2, -2, -1.8, -1.6, -1.4, -1.2, -1, -0.8, -0.6, -0.4, -0.2, 0, 0.2, 0.4, 0.6, 0.8, 1, 1.2],
            "labelExpr": "datum.value % 1 === 0 ? (datum.value < 0 ? '-' : '') + abs(datum.value) : ''",
            "tickSize": {"condition": {"test": "datum.value % 1 === 0", "value": 19}, "value": 12.4},
            "tickWidth": 2.85, "tickColor": "#808000",
            "domainColor": "#808000", "domainWidth": 2.85,
            "labelFont": "Liberation Serif", "labelFontSize": 53, "labelColor": "black", "labelPadding": 19,
            "labelOverlap": false, "grid": false,
            "title": "DSC /(mW/mg)",
            "titleFont": "Liberation Serif", "titleFontSize": 53, "titleFontWeight": "normal", "titleColor": "black",
            "titleAngle": 0, "titleX": -179, "titleY": -89, "titleAlign": "left", "titleBaseline": "alphabetic"
          }
        },
        "x2": {"field": "t2"},
        "y2": {"field": "v2"}
      }
    },
    {
      "data": {"name": "curve"},
      "transform": [{"filter": "datum.s === '15 min' && datum.t >= 110.5 && datum.t <= 191"}],
      "mark": {"type": "area", "orient": "vertical", "color": "white", "opacity": 1},
      "encoding": {
        "x": {"field": "t", "type": "quantitative", "scale": {"domain": [27.96, 205.9], "nice": false, "zero": false}},
        "y": {"field": "v", "type": "quantitative", "scale": {"domain": [-5.026, 1.259], "nice": false, "zero": false}},
        "y2": {"datum": -3.823}
      }
    },
    {
      "data": {"name": "hatch"},
      "transform": [{"filter": "datum.s === '10 min'"}],
      "mark": {"type": "rule", "color": "#006400", "strokeWidth": 1.9},
      "encoding": {
        "x": {"field": "t", "type": "quantitative", "scale": {"domain": [27.96, 205.9], "nice": false, "zero": false}},
        "y": {"field": "v", "type": "quantitative", "scale": {"domain": [-5.026, 1.259], "nice": false, "zero": false}},
        "x2": {"field": "t2"}, "y2": {"field": "v2"}
      }
    },
    {
      "data": {"name": "curve"},
      "transform": [{"filter": "datum.s === '10 min' && datum.t >= 125 && datum.t <= 200"}],
      "mark": {"type": "area", "orient": "vertical", "color": "white", "opacity": 1},
      "encoding": {
        "x": {"field": "t", "type": "quantitative", "scale": {"domain": [27.96, 205.9], "nice": false, "zero": false}},
        "y": {"field": "v", "type": "quantitative", "scale": {"domain": [-5.026, 1.259], "nice": false, "zero": false}},
        "y2": {"datum": -3.083}
      }
    },
    {
      "data": {"name": "hatch"},
      "transform": [{"filter": "datum.s === '5 min'"}],
      "mark": {"type": "rule", "color": "#F000F0", "strokeWidth": 1.9},
      "encoding": {
        "x": {"field": "t", "type": "quantitative", "scale": {"domain": [27.96, 205.9], "nice": false, "zero": false}},
        "y": {"field": "v", "type": "quantitative", "scale": {"domain": [-5.026, 1.259], "nice": false, "zero": false}},
        "x2": {"field": "t2"}, "y2": {"field": "v2"}
      }
    },
    {
      "data": {"name": "curve"},
      "transform": [{"filter": "datum.s === '5 min' && datum.t >= 125 && datum.t <= 191"}],
      "mark": {"type": "area", "orient": "vertical", "color": "white", "opacity": 1},
      "encoding": {
        "x": {"field": "t", "type": "quantitative", "scale": {"domain": [27.96, 205.9], "nice": false, "zero": false}},
        "y": {"field": "v", "type": "quantitative", "scale": {"domain": [-5.026, 1.259], "nice": false, "zero": false}},
        "y2": {"datum": -2.34}
      }
    },
    {
      "data": {"name": "hatch"},
      "transform": [{"filter": "datum.s === '3.5 min'"}],
      "mark": {"type": "rule", "color": "#12EE12", "strokeWidth": 1.9},
      "encoding": {
        "x": {"field": "t", "type": "quantitative", "scale": {"domain": [27.96, 205.9], "nice": false, "zero": false}},
        "y": {"field": "v", "type": "quantitative", "scale": {"domain": [-5.026, 1.259], "nice": false, "zero": false}},
        "x2": {"field": "t2"}, "y2": {"field": "v2"}
      }
    },
    {
      "data": {"name": "curve"},
      "transform": [{"filter": "datum.s === '3.5 min' && datum.t >= 109 && datum.t <= 191"}],
      "mark": {"type": "area", "orient": "vertical", "color": "white", "opacity": 1},
      "encoding": {
        "x": {"field": "t", "type": "quantitative", "scale": {"domain": [27.96, 205.9], "nice": false, "zero": false}},
        "y": {"field": "v", "type": "quantitative", "scale": {"domain": [-5.026, 1.259], "nice": false, "zero": false}},
        "y2": {"datum": -1.853}
      }
    },
    {
      "data": {"name": "hatch"},
      "transform": [{"filter": "datum.s === '2.5 min'"}],
      "mark": {"type": "rule", "color": "#0000F5", "strokeWidth": 1.9},
      "encoding": {
        "x": {"field": "t", "type": "quantitative", "scale": {"domain": [27.96, 205.9], "nice": false, "zero": false}},
        "y": {"field": "v", "type": "quantitative", "scale": {"domain": [-5.026, 1.259], "nice": false, "zero": false}},
        "x2": {"field": "t2"}, "y2": {"field": "v2"}
      }
    },
    {
      "data": {"name": "curve"},
      "transform": [{"filter": "datum.s === '2.5 min' && datum.t >= 125 && datum.t <= 200"}],
      "mark": {"type": "area", "orient": "vertical", "color": "white", "opacity": 1},
      "encoding": {
        "x": {"field": "t", "type": "quantitative", "scale": {"domain": [27.96, 205.9], "nice": false, "zero": false}},
        "y": {"field": "v", "type": "quantitative", "scale": {"domain": [-5.026, 1.259], "nice": false, "zero": false}},
        "y2": {"datum": -1.388}
      }
    },
    {
      "data": {"name": "hatch"},
      "transform": [{"filter": "datum.s === '1.5 min'"}],
      "mark": {"type": "rule", "color": "#800000", "strokeWidth": 1.9},
      "encoding": {
        "x": {"field": "t", "type": "quantitative", "scale": {"domain": [27.96, 205.9], "nice": false, "zero": false}},
        "y": {"field": "v", "type": "quantitative", "scale": {"domain": [-5.026, 1.259], "nice": false, "zero": false}},
        "x2": {"field": "t2"}, "y2": {"field": "v2"}
      }
    },
    {
      "data": {"name": "curve"},
      "transform": [{"filter": "datum.s === '1.5 min' && datum.t >= 109 && datum.t <= 191"}],
      "mark": {"type": "area", "orient": "vertical", "color": "white", "opacity": 1},
      "encoding": {
        "x": {"field": "t", "type": "quantitative", "scale": {"domain": [27.96, 205.9], "nice": false, "zero": false}},
        "y": {"field": "v", "type": "quantitative", "scale": {"domain": [-5.026, 1.259], "nice": false, "zero": false}},
        "y2": {"datum": -0.928}
      }
    },
    {
      "data": {"name": "hatch"},
      "transform": [{"filter": "datum.s === '1 min'"}],
      "mark": {"type": "rule", "color": "#00E6F0", "strokeWidth": 1.9},
      "encoding": {
        "x": {"field": "t", "type": "quantitative", "scale": {"domain": [27.96, 205.9], "nice": false, "zero": false}},
        "y": {"field": "v", "type": "quantitative", "scale": {"domain": [-5.026, 1.259], "nice": false, "zero": false}},
        "x2": {"field": "t2"}, "y2": {"field": "v2"}
      }
    },
    {
      "data": {"name": "curve"},
      "transform": [{"filter": "datum.s === '1 min' && datum.t >= 109 && datum.t <= 191"}],
      "mark": {"type": "area", "orient": "vertical", "color": "white", "opacity": 1},
      "encoding": {
        "x": {"field": "t", "type": "quantitative", "scale": {"domain": [27.96, 205.9], "nice": false, "zero": false}},
        "y": {"field": "v", "type": "quantitative", "scale": {"domain": [-5.026, 1.259], "nice": false, "zero": false}},
        "y2": {"datum": -0.178}
      }
    },
    {
      "data": {"name": "hatch"},
      "transform": [{"filter": "datum.s === '30 s'"}],
      "mark": {"type": "rule", "color": "#000000", "strokeWidth": 1.9},
      "encoding": {
        "x": {"field": "t", "type": "quantitative", "scale": {"domain": [27.96, 205.9], "nice": false, "zero": false}},
        "y": {"field": "v", "type": "quantitative", "scale": {"domain": [-5.026, 1.259], "nice": false, "zero": false}},
        "x2": {"field": "t2"}, "y2": {"field": "v2"}
      }
    },
    {
      "data": {"name": "curve"},
      "transform": [{"filter": "datum.s === '30 s' && datum.t >= 108 && datum.t <= 191"}],
      "mark": {"type": "area", "orient": "vertical", "color": "white", "opacity": 1},
      "encoding": {
        "x": {"field": "t", "type": "quantitative", "scale": {"domain": [27.96, 205.9], "nice": false, "zero": false}},
        "y": {"field": "v", "type": "quantitative", "scale": {"domain": [-5.026, 1.259], "nice": false, "zero": false}},
        "y2": {"datum": 0.582}
      }
    },
    {
      "data": {"name": "hatch"},
      "transform": [{"filter": "datum.s === 'initial film'"}],
      "mark": {"type": "rule", "color": "#808000", "strokeWidth": 1.9},
      "encoding": {
        "x": {"field": "t", "type": "quantitative", "scale": {"domain": [27.96, 205.9], "nice": false, "zero": false}},
        "y": {"field": "v", "type": "quantitative", "scale": {"domain": [-5.026, 1.259], "nice": false, "zero": false}},
        "x2": {"field": "t2"}, "y2": {"field": "v2"}
      }
    },
    {
      "data": {"name": "curve"},
      "transform": [{"filter": "datum.s === 'initial film' && datum.t >= 115 && datum.t <= 191"}],
      "mark": {"type": "area", "orient": "vertical", "color": "white", "opacity": 1},
      "encoding": {
        "x": {"field": "t", "type": "quantitative", "scale": {"domain": [27.96, 205.9], "nice": false, "zero": false}},
        "y": {"field": "v", "type": "quantitative", "scale": {"domain": [-5.026, 1.259], "nice": false, "zero": false}},
        "y2": {"datum": 1.062}
      }
    },
    {
      "data": {"name": "base"},
      "mark": {"type": "line", "strokeWidth": 1.9},
      "encoding": {
        "x": {"field": "t", "type": "quantitative", "scale": {"domain": [27.96, 205.9], "nice": false, "zero": false}},
        "y": {"field": "v", "type": "quantitative", "scale": {"domain": [-5.026, 1.259], "nice": false, "zero": false}},
        "detail": {"field": "g"},
        "color": {"field": "s", "type": "nominal", "legend": null,
          "scale": {"domain": ["initial film", "30 s", "1 min", "1.5 min", "2.5 min", "3.5 min", "5 min", "10 min", "15 min"],
                    "range": ["#808000", "#000000", "#00E6F0", "#800000", "#0000F5", "#12EE12", "#F000F0", "#006400", "#1464F4"]}}
      }
    },
    {
      "data": {"name": "curve"},
      "mark": {"type": "line", "strokeWidth": 4.75, "strokeJoin": "round"},
      "encoding": {
        "x": {"field": "t", "type": "quantitative", "scale": {"domain": [27.96, 205.9], "nice": false, "zero": false}},
        "y": {"field": "v", "type": "quantitative", "scale": {"domain": [-5.026, 1.259], "nice": false, "zero": false}},
        "color": {"field": "s", "type": "nominal", "legend": null,
          "scale": {"domain": ["initial film", "30 s", "1 min", "1.5 min", "2.5 min", "3.5 min", "5 min", "10 min", "15 min"],
                    "range": ["#808000", "#000000", "#00E6F0", "#800000", "#0000F5", "#12EE12", "#F000F0", "#006400", "#1464F4"]}}
      }
    },
    {
      "data": {"name": "lead"},
      "mark": {"type": "rule", "strokeWidth": 1.9},
      "encoding": {
        "x": {"field": "t", "type": "quantitative", "scale": {"domain": [27.96, 205.9], "nice": false, "zero": false}},
        "y": {"field": "v", "type": "quantitative", "scale": {"domain": [-5.026, 1.259], "nice": false, "zero": false}},
        "x2": {"field": "t2"}, "y2": {"field": "v2"},
        "color": {"field": "s", "type": "nominal", "legend": null,
          "scale": {"domain": ["initial film", "30 s", "1 min", "1.5 min", "2.5 min", "3.5 min", "5 min", "10 min", "15 min"],
                    "range": ["#808000", "#000000", "#00E6F0", "#800000", "#0000F5", "#12EE12", "#F000F0", "#006400", "#1464F4"]}}
      }
    },
    {
      "data": {"name": "mk"},
      "mark": {"type": "point", "shape": "M-1,0L1,0M0,-1.1L0,1.1", "size": 760, "filled": false, "stroke": "black", "strokeWidth": 2.85, "opacity": 1},
      "encoding": {
        "x": {"field": "t", "type": "quantitative", "scale": {"domain": [27.96, 205.9], "nice": false, "zero": false}},
        "y": {"field": "v", "type": "quantitative", "scale": {"domain": [-5.026, 1.259], "nice": false, "zero": false}}
      }
    },
    {
      "data": {"name": "lab"},
      "mark": {"type": "text", "font": "Liberation Sans", "fontSize": 46.5, "align": "left", "baseline": "alphabetic"},
      "encoding": {
        "x": {"field": "t", "type": "quantitative", "scale": {"domain": [27.96, 205.9], "nice": false, "zero": false}},
        "y": {"field": "v", "type": "quantitative", "scale": {"domain": [-5.026, 1.259], "nice": false, "zero": false}},
        "text": {"field": "text"},
        "color": {"field": "s", "type": "nominal", "legend": null,
          "scale": {"domain": ["initial film", "30 s", "1 min", "1.5 min", "2.5 min", "3.5 min", "5 min", "10 min", "15 min"],
                    "range": ["#808000", "#000000", "#00E6F0", "#800000", "#0000F5", "#12EE12", "#F000F0", "#006400", "#1464F4"]}}
      }
    },
    {
      "data": {"values": [{"text": "↓ exo", "t": 31.3, "v": 1.024}]},
      "mark": {"type": "text", "font": "Liberation Serif", "fontSize": 55, "align": "left", "baseline": "alphabetic", "color": "black"},
      "encoding": {
        "x": {"field": "t", "type": "quantitative", "scale": {"domain": [27.96, 205.9], "nice": false, "zero": false}},
        "y": {"field": "v", "type": "quantitative", "scale": {"domain": [-5.026, 1.259], "nice": false, "zero": false}},
        "text": {"field": "text"}
      }
    }
  ],
  "config": {
    "view": {"stroke": null},
    "style": {"cell": {"stroke": "transparent"}}
  }
}
